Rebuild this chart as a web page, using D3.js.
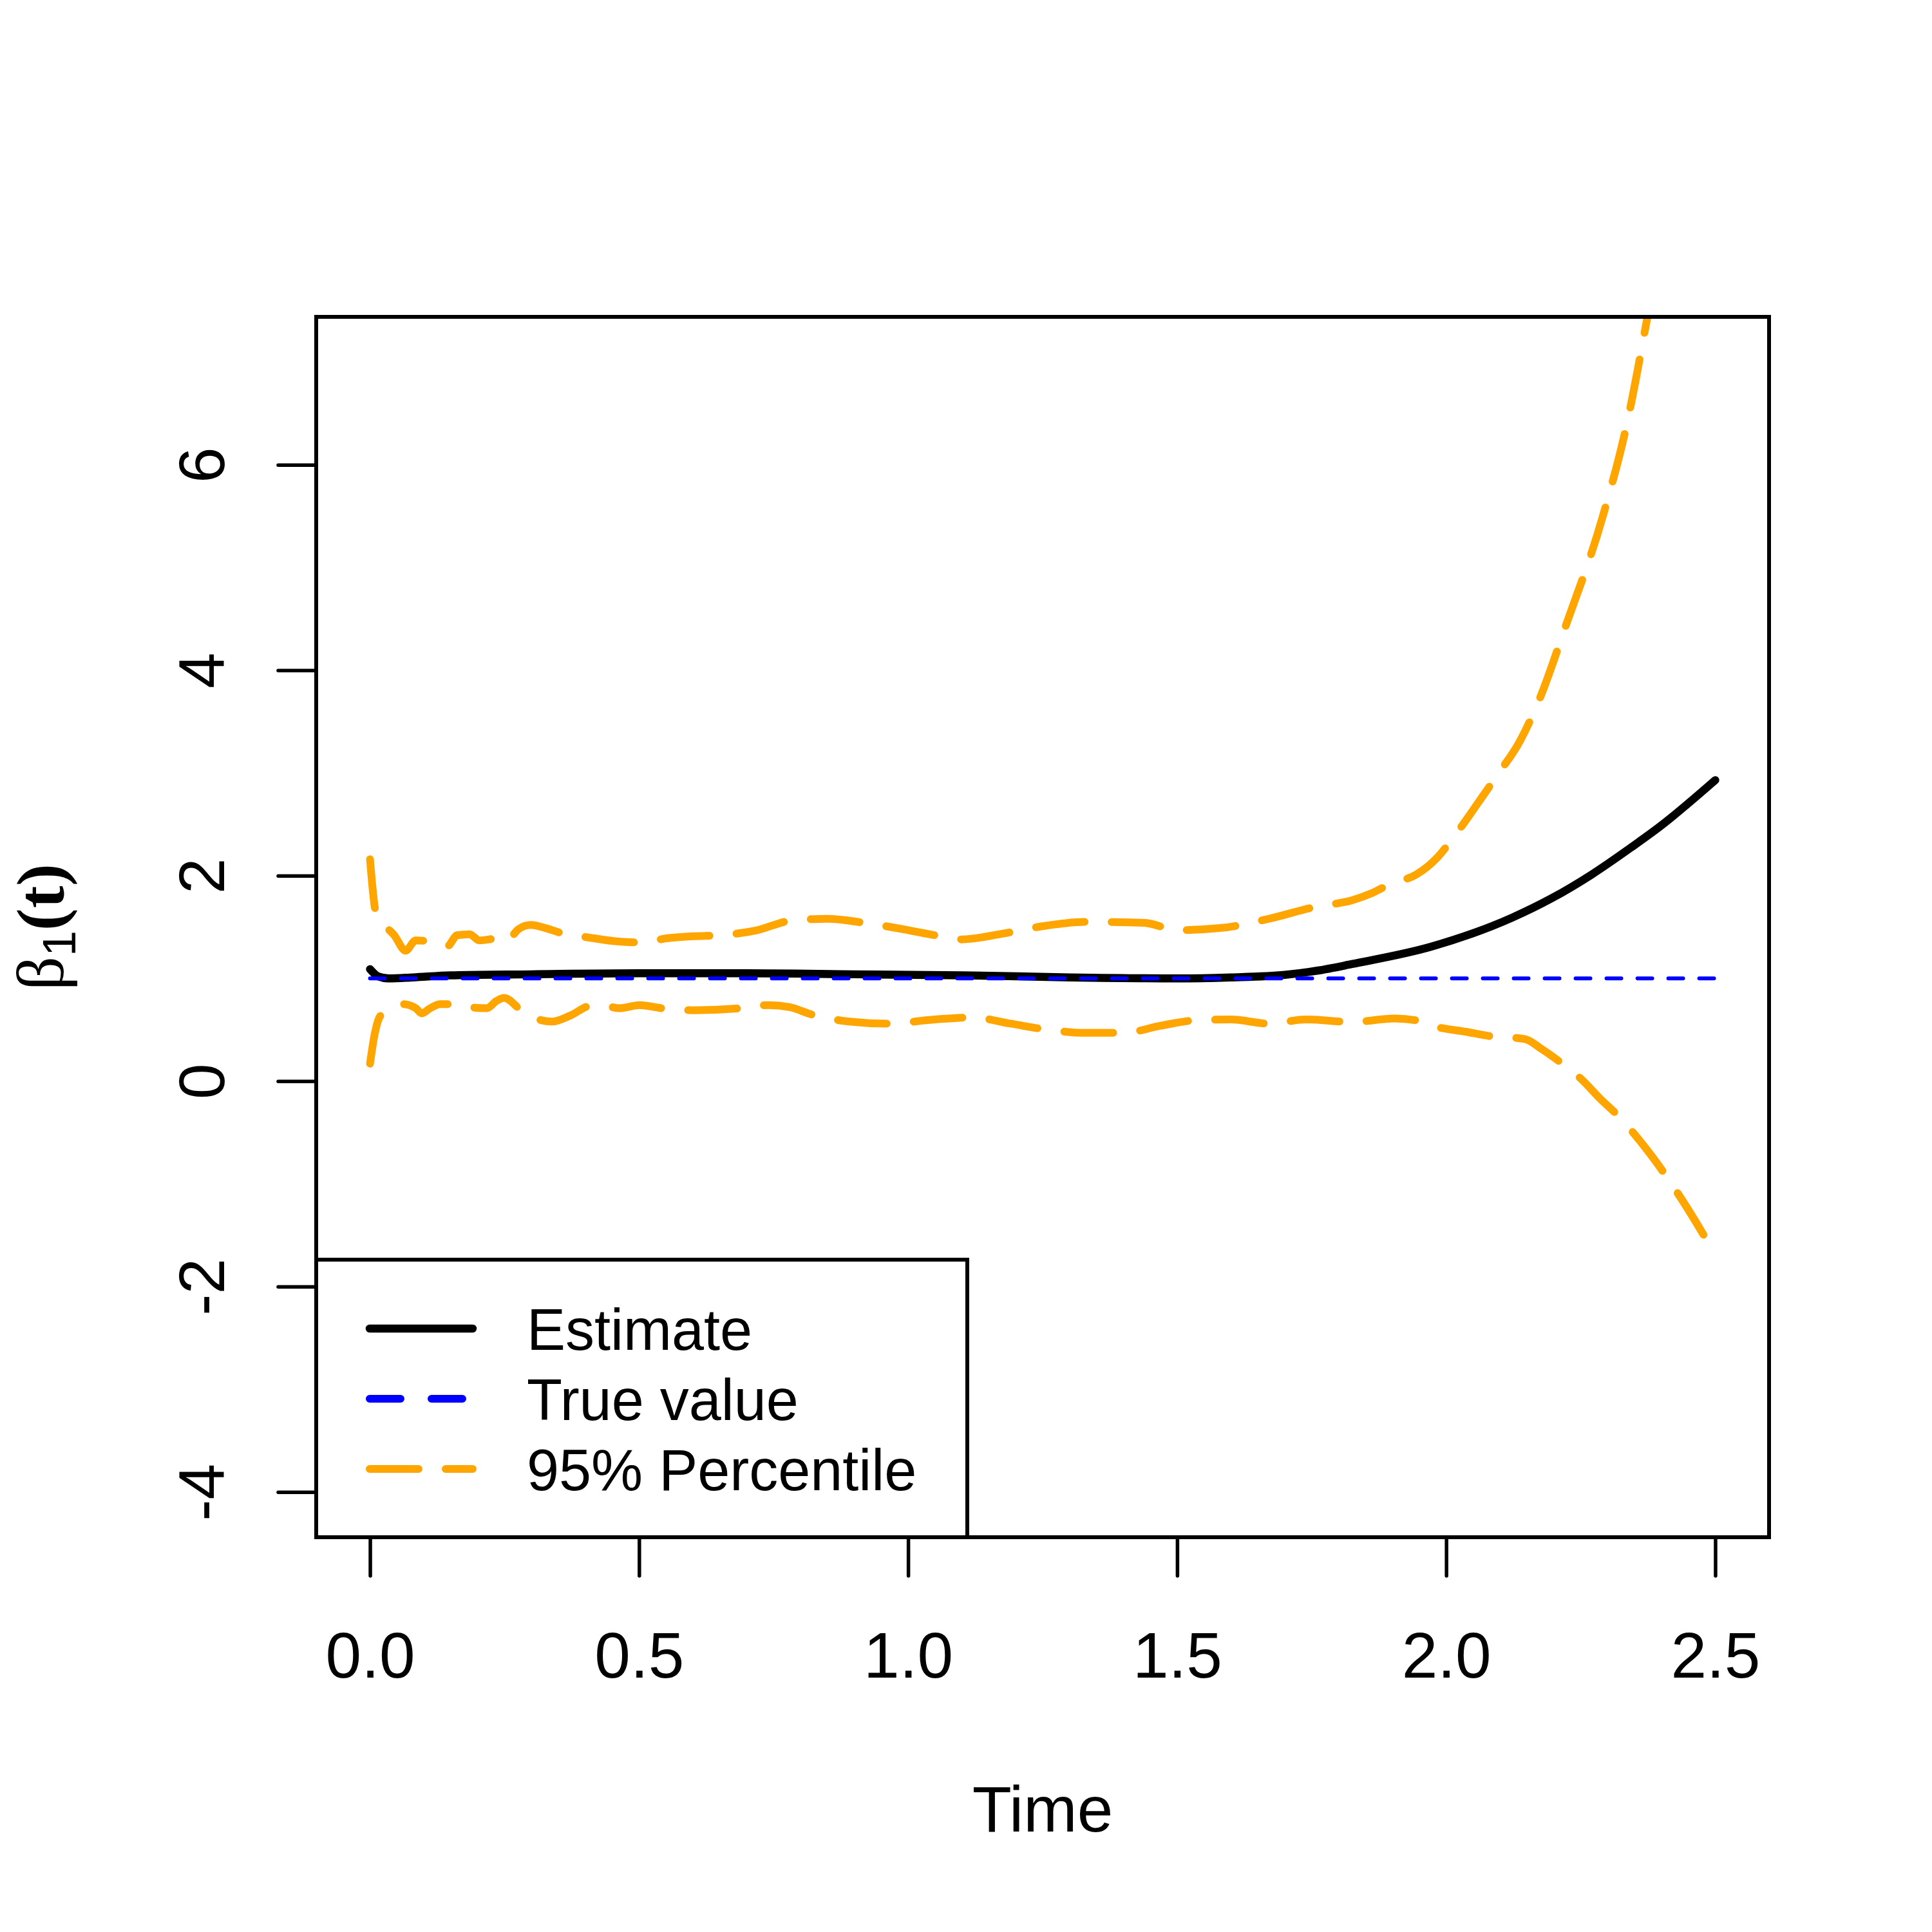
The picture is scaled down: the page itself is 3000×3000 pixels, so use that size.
<!DOCTYPE html>
<html>
<head>
<meta charset="utf-8">
<script src="https://cdn.jsdelivr.net/npm/d3@7"></script>
<style>
  html, body { margin: 0; padding: 0; background: #fff; }
  svg { display: block; }
</style>
</head>
<body>
<script>
// ---------------- data ----------------
const xTicks = [0, 0.5, 1.0, 1.5, 2.0, 2.5];
const xTickLabels = ["0.0", "0.5", "1.0", "1.5", "2.0", "2.5"];
const yTicks = [-4, -2, 0, 2, 4, 6];
const yTickLabels = ["-4", "-2", "0", "2", "4", "6"];

const estTime  = [0, 0.015, 0.035, 0.08, 0.15, 0.3, 0.5, 0.7, 0.9, 1.1, 1.3, 1.5, 1.6, 1.7, 1.76, 1.825, 1.973, 2.122, 2.196, 2.27, 2.345, 2.395, 2.5];
const estValue = [1.09, 1.02, 1.00, 1.01, 1.03, 1.04, 1.05, 1.05, 1.04, 1.03, 1.01, 1.00, 1.01, 1.035, 1.075, 1.14, 1.31, 1.59, 1.78, 2.01, 2.28, 2.47, 2.93];

const trueTime  = [0, 2.5];
const trueValue = [1, 1];

const upperTime  = [0, 0.011, 0.025, 0.045, 0.066, 0.085, 0.121, 0.143, 0.162, 0.185, 0.203, 0.240, 0.253, 0.276, 0.299, 0.326, 0.363, 0.404, 0.459, 0.505, 0.551, 0.601, 0.65, 0.72, 0.78, 0.85, 0.92, 1.00, 1.05, 1.10, 1.17, 1.24, 1.33, 1.44, 1.50, 1.58, 1.67, 1.76, 1.825, 1.862, 1.896, 1.944, 1.984, 2.013, 2.07, 2.095, 2.137, 2.175, 2.22, 2.29, 2.335, 2.374, 2.42, 2.46, 2.50];
const upperValue = [2.16, 1.64, 1.53, 1.42, 1.27, 1.37, 1.35, 1.31, 1.42, 1.43, 1.37, 1.39, 1.36, 1.48, 1.52, 1.49, 1.43, 1.40, 1.36, 1.35, 1.39, 1.41, 1.42, 1.47, 1.56, 1.58, 1.54, 1.47, 1.42, 1.38, 1.43, 1.50, 1.55, 1.54, 1.47, 1.49, 1.58, 1.70, 1.76, 1.83, 1.92, 2.01, 2.18, 2.37, 2.79, 2.98, 3.31, 3.74, 4.40, 5.48, 6.38, 7.44, 8.8, 10.0, 11.3];

const lowerTime  = [0, 0.008, 0.020, 0.048, 0.061, 0.085, 0.096, 0.112, 0.130, 0.162, 0.185, 0.217, 0.235, 0.249, 0.281, 0.308, 0.338, 0.373, 0.409, 0.436, 0.464, 0.501, 0.542, 0.601, 0.69, 0.74, 0.78, 0.82, 0.89, 0.96, 1.05, 1.12, 1.19, 1.26, 1.33, 1.40, 1.47, 1.53, 1.60, 1.67, 1.74, 1.825, 1.904, 1.946, 1.973, 2.042, 2.079, 2.146, 2.178, 2.213, 2.251, 2.286, 2.318, 2.382, 2.44, 2.50];
const lowerValue = [0.17, 0.44, 0.64, 0.71, 0.75, 0.71, 0.66, 0.71, 0.75, 0.75, 0.72, 0.71, 0.78, 0.81, 0.69, 0.61, 0.58, 0.64, 0.73, 0.73, 0.71, 0.74, 0.71, 0.69, 0.71, 0.74, 0.72, 0.65, 0.58, 0.56, 0.60, 0.62, 0.56, 0.50, 0.47, 0.47, 0.54, 0.59, 0.60, 0.56, 0.60, 0.575, 0.61, 0.59, 0.54, 0.475, 0.44, 0.41, 0.31, 0.18, 0.02, -0.17, -0.33, -0.73, -1.17, -1.69];

const legendLabels = ["Estimate", "True value", "95% Percentile"];

// ---------------- layout ----------------
const W = 3000, H = 3000;
const L = 491, R = 2747, T = 492, B = 2387;
const xLim = [0, 2.5], yLim = [-4, 7];
const xPad = (xLim[1] - xLim[0]) * 0.04, yPad = (yLim[1] - yLim[0]) * 0.04;

const x = d3.scaleLinear().domain([xLim[0] - xPad, xLim[1] + xPad]).range([L, R]);
const y = d3.scaleLinear().domain([yLim[0] - yPad, yLim[1] + yPad]).range([B, T]);

const svg = d3.select("body").append("svg")
  .attr("width", W).attr("height", H)
  .attr("viewBox", `0 0 ${W} ${H}`);
svg.append("rect").attr("width", W).attr("height", H).attr("fill", "#fff");

svg.append("defs").append("clipPath").attr("id", "plotclip")
  .append("rect").attr("x", L).attr("y", T).attr("width", R - L).attr("height", B - T);

const zip = (a, b) => a.map((v, i) => [v, b[i]]);
const line = d3.line().x(d => x(d[0])).y(d => y(d[1])).curve(d3.curveMonotoneX);

const g = svg.append("g").attr("clip-path", "url(#plotclip)");

const ORANGE_DASH = "76,42";
const series = [
  { data: zip(upperTime, upperValue), color: "#FFA500", width: 12, dash: ORANGE_DASH },
  { data: zip(lowerTime, lowerValue), color: "#FFA500", width: 12, dash: ORANGE_DASH },
  { data: zip(estTime, estValue), color: "#000000", width: 12.5, dash: null },
  { data: zip(trueTime, trueValue), color: "#0000FF", width: 6, dash: "23,25" }
];

series.forEach(s => {
  g.append("path")
    .datum(s.data)
    .attr("d", line)
    .attr("fill", "none")
    .attr("stroke", s.color)
    .attr("stroke-width", s.width)
    .attr("stroke-linecap", "round")
    .attr("stroke-linejoin", "round")
    .attr("stroke-dasharray", s.dash);
});

// ---------------- axes ----------------
const FONT = "'Liberation Sans', Arial, sans-serif";

const xAxis = svg.append("g").attr("transform", `translate(0,${B})`)
  .call(d3.axisBottom(x).tickValues(xTicks).tickFormat((d, i) => xTickLabels[i]).tickSize(60));
xAxis.select(".domain").remove();
xAxis.selectAll(".tick line").attr("stroke", "#000").attr("stroke-width", 5.5).attr("stroke-linecap", "round");
xAxis.selectAll(".tick text")
  .attr("y", 218).attr("dy", null)
  .attr("fill", "#000")
  .style("font-family", FONT).style("font-size", "100px");

const yAxis = svg.append("g").attr("transform", `translate(${L},0)`)
  .call(d3.axisLeft(y).tickValues(yTicks).tickFormat((d, i) => yTickLabels[i]).tickSize(59));
yAxis.select(".domain").remove();
yAxis.selectAll(".tick line").attr("stroke", "#000").attr("stroke-width", 5.5).attr("stroke-linecap", "round");
yAxis.selectAll(".tick text")
  .attr("x", 0).attr("y", -143).attr("dy", null)
  .attr("transform", "rotate(-90)")
  .attr("text-anchor", "middle")
  .attr("fill", "#000")
  .style("font-family", FONT).style("font-size", "100px");

// box
svg.append("rect")
  .attr("x", L).attr("y", T).attr("width", R - L).attr("height", B - T)
  .attr("fill", "none").attr("stroke", "#000").attr("stroke-width", 6);

// x title
svg.append("text")
  .attr("x", (L + R) / 2).attr("y", 2844)
  .attr("text-anchor", "middle")
  .style("font-family", FONT).style("font-size", "100px")
  .text("Time");

// y title  β1(t)
const SERIF = "'Liberation Serif', 'Times New Roman', serif";
const yt = svg.append("text")
  .attr("transform", `translate(98,${(T + B) / 2}) rotate(-90)`)
  .attr("text-anchor", "middle");
yt.append("tspan").style("font-family", SERIF).style("font-size", "104px").text("β");
yt.append("tspan").attr("dy", 19).style("font-family", FONT).style("font-size", "72px").text("1");
yt.append("tspan").attr("dy", -19).style("font-family", SERIF).style("font-weight", "bold").style("font-size", "104px").text("(t)");

// ---------------- legend ----------------
const legX0 = L, legX1 = 1502, legY0 = 1956, legY1 = B;
svg.append("rect")
  .attr("x", legX0).attr("y", legY0).attr("width", legX1 - legX0).attr("height", legY1 - legY0)
  .attr("fill", "#fff").attr("stroke", "#000").attr("stroke-width", 6);

const legendStyles = [
  { color: "#000000", width: 12.5, dash: null },
  { color: "#0000FF", width: 12, dash: "48,48" },
  { color: "#FFA500", width: 12, dash: ORANGE_DASH }
];
const rowY = [2063, 2172, 2281];
legendLabels.forEach((lab, i) => {
  const st = legendStyles[i];
  svg.append("line")
    .attr("x1", 574).attr("x2", 734).attr("y1", rowY[i]).attr("y2", rowY[i])
    .attr("stroke", st.color).attr("stroke-width", st.width)
    .attr("stroke-linecap", "round")
    .attr("stroke-dasharray", st.dash);
  svg.append("text")
    .attr("x", 818).attr("y", rowY[i] + 33)
    .style("font-family", FONT).style("font-size", "90px")
    .text(lab);
});
</script>
</body>
</html>
